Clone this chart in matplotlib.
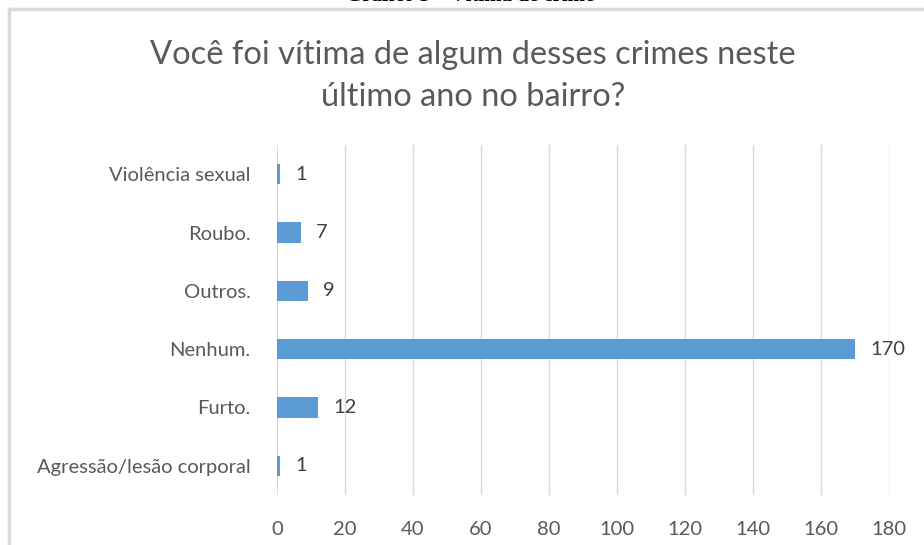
import matplotlib.pyplot as plt

categories = ["Agressão/lesão corporal", "Furto.", "Nenhum.", "Outros.", "Roubo.", "Violência sexual"]
counts = [1, 12, 170, 9, 7, 1]
x_ticks = [0, 20, 40, 60, 80, 100, 120, 140, 160, 180]

title = "Você foi vítima de algum desses crimes neste\núltimo ano no bairro?"
header = "Gráfico 5 – Vítima de crime"

plt.rcParams['font.family'] = ['Lato', 'DejaVu Sans']

fig = plt.figure(figsize=(9.24, 5.45), dpi=100)
ax = fig.add_axes([277 / 924, 1 - 495 / 545, 612 / 924, 350 / 545])

bar_color = "#5B9BD5"
text_color = "#595959"

ypos = range(len(categories))
ax.barh(ypos, counts, height=0.35, color=bar_color, zorder=3)
for y, v in zip(ypos, counts):
    ax.text(v + 4.5, y, str(v), va="center", ha="left", fontsize=14.5, color="#404040")

ax.set_xlim(0, 180)
ax.set_ylim(-0.5, len(categories) - 0.5)
ax.set_xticks(x_ticks)
ax.set_xticklabels([str(t) for t in x_ticks], fontsize=14.5, color=text_color)
ax.set_yticks(list(ypos))
ax.set_yticklabels(categories, fontsize=14.5, color=text_color)
ax.tick_params(axis="x", length=0, pad=19)
ax.tick_params(axis="y", length=0, pad=19)
ax.grid(axis="x", color="#D9D9D9", linewidth=1, zorder=0)
for s in ax.spines.values():
    s.set_visible(False)

fig.text(473 / 924, 1 - 76 / 545, title, ha="center", va="center", fontsize=23.5,
         color=text_color, linespacing=1.5)

# chart frame (only top and left edge visible in the crop)
fig.add_artist(plt.Line2D([9 / 924, 1.0], [1 - 9 / 545, 1 - 9 / 545], color="#D9D9D9", lw=2.5))
fig.add_artist(plt.Line2D([9 / 924, 9 / 924], [1 - 9 / 545, 0], color="#D9D9D9", lw=2.5))

# caption above the chart, mostly cut off as in the source
fig.text(470 / 924, 1 + 4 / 545, header, ha="center", va="center", fontsize=15,
         fontweight="bold", family=["Liberation Serif", "DejaVu Serif"], color="black")

fig.savefig("out.png", dpi=100)
